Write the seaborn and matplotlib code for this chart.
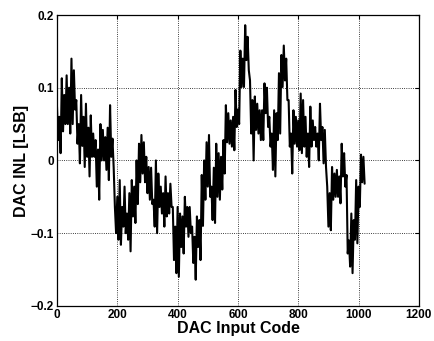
import numpy as np
import pandas as pd
import seaborn as sns
import matplotlib.pyplot as plt

# upper / lower edge of the INL trace, read every 8 codes (units of 0.01 LSB)
codes = list(range(0, 1024, 8))
inl_hi = [7.4, 6.0, 11.3, 9.0, 11.7, 10.0, 14.0, 12.4, 8.3, 5.0, 9.0, 6.0, 7.8, 4.5, 6.2, 3.7,
          2.8, 1.5, 5.0, 4.2, 3.2, 4.5, 7.6, 3.0, -6.4, -5.0, -2.7, -6.4, -3.6, -7.3, -4.5, -2.7,
          -3.6, 0.0, 2.3, 3.5, 2.5, 0.5, -0.9, -1.0, -5.4, 0.0, -1.8, -3.6, -4.5, -2.2, -4.5, -3.2,
          -6.4, -9.1, -6.4, -7.3, -7.7, -5.0, -6.4, -6.4, -9.1, -10.5, -7.7, -8.2, -2.0, 0.0, 2.5, 3.5,
          -3.6, -1.0, 2.3, 1.0, 0.5, 2.8, 7.6, 6.5, 5.5, 6.0, 9.7, 7.0, 15.1, 14.0, 18.6, 17.0,
          11.0, 8.3, 8.8, 7.8, 6.9, 6.9, 10.6, 10.0, 6.0, 3.7, 6.9, 6.5, 12.0, 14.5, 15.8, 14.0,
          8.3, 3.7, 6.9, 6.0, 5.5, 9.2, 8.3, 6.0, 3.7, 7.4, 5.5, 4.6, 3.7, 7.8, 4.6, 4.2,
          -3.6, -4.5, -0.9, -1.8, -1.3, -2.2, 2.3, 1.0, -2.0, -11.0, -7.3, -8.2, -2.7, -3.6, 0.8, 0.5]
inl_lo = [2.8, 1.0, 4.0, 5.0, 5.0, 3.7, 5.0, 7.0, 2.3, -0.4, 2.0, -0.9, 0.5, -2.2, 0.5, 0.5,
          -3.6, -5.4, 0.0, 0.0, -1.3, -2.7, 0.5, -1.0, -10.0, -10.9, -11.6, -9.1, -10.0, -10.9, -12.5, -7.7,
          -8.6, -6.0, -3.0, -1.8, -3.0, -4.5, -5.4, -6.0, -9.1, -10.0, -6.4, -7.3, -9.1, -7.7, -7.3, -6.4,
          -13.7, -15.5, -16.0, -11.9, -12.8, -9.1, -10.5, -10.0, -14.1, -16.4, -11.9, -13.7, -9.0, -5.4, -3.6, -5.0,
          -8.2, -8.6, -5.0, -5.4, -4.0, -1.8, 2.5, 2.3, 1.9, 1.4, 4.6, 5.0, 10.1, 10.1, 13.8, 12.4,
          3.7, 0.0, 4.2, 3.7, 2.8, 2.8, 6.5, 4.6, 1.9, -1.3, -2.2, 2.8, 3.7, 10.1, 11.0, 8.3,
          1.9, -1.8, 2.3, 1.9, 1.4, 1.0, 1.9, 0.5, -0.9, 1.9, 2.8, 1.9, 0.0, 2.8, -0.4, -0.9,
          -9.1, -9.6, -5.4, -5.0, -5.0, -5.9, -2.2, -3.6, -12.8, -14.6, -15.5, -10.9, -11.4, -6.4, -3.0, -3.2]

xticks = [0, 200, 400, 600, 800, 1000, 1200]
yticks = [-0.2, -0.1, 0, 0.1, 0.2]
ytick_labels = ['\u22120.2', '\u22120.1', '0', '0.1', '0.2']

# zigzag between the two edges to get the dense trace look
hi = pd.DataFrame({'code': codes, 'inl': np.array(inl_hi) / 100})
lo = pd.DataFrame({'code': np.array(codes) + 4, 'inl': np.array(inl_lo) / 100})
df = pd.concat([hi, lo]).sort_values('code').reset_index(drop=True)

sns.set_style('white')
plt.rcParams['font.family'] = ['Liberation Sans', 'DejaVu Sans']
plt.rcParams['text.color'] = 'black'
plt.rcParams['axes.labelcolor'] = 'black'

fig = plt.figure(figsize=(4.35, 3.41), dpi=100)
ax = fig.add_axes([0.131, 0.103, 0.832, 0.853])
sns.lineplot(x='code', y='inl', data=df, ax=ax, color='black', lw=1.5,
             estimator=None, sort=False)

ax.set_xlim(0, 1200)
ax.set_ylim(-0.2, 0.2)
ax.set_xticks(xticks)
ax.set_xticklabels([str(t) for t in xticks], fontweight='bold', fontsize=8.5)
ax.set_yticks(yticks)
ax.set_yticklabels(ytick_labels, fontweight='bold', fontsize=8.5)
ax.grid(True, color='black', linestyle=':', linewidth=0.6)
ax.tick_params(direction='in', length=3, width=0.8, top=True, right=True, pad=2,
               colors='black', labelcolor='black')
for s in ax.spines.values():
    s.set_color('black')
    s.set_linewidth(0.9)
ax.set_xlabel('DAC Input Code', fontweight='bold', fontsize=11.5, labelpad=0, color='black')
ax.set_ylabel('DAC INL [LSB]', fontweight='bold', fontsize=11.5, labelpad=1, color='black')

fig.savefig('out.png', dpi=100)
